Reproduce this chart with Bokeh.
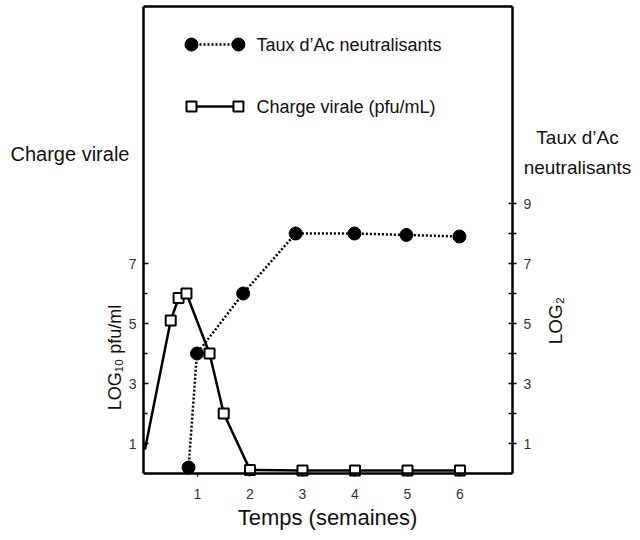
from bokeh.plotting import figure
from bokeh.models import Range1d, LinearAxis, FixedTicker, Label
from bokeh.embed import file_html
from bokeh.resources import INLINE
import math

# ---- data ----
weeks_ac = [0.83, 0.99, 1.87, 2.87, 3.99, 4.98, 5.99]
ac_log2 = [0.2, 4.0, 6.0, 8.0, 8.0, 7.95, 7.9]

weeks_cv = [0.0, 0.49, 0.64, 0.79, 1.23, 1.5, 2.0, 3.0, 4.0, 5.0, 6.0]
cv_log10 = [0.8, 5.1, 5.85, 6.0, 4.0, 2.0, 0.12, 0.1, 0.1, 0.1, 0.1]

x_ticks = [1, 2, 3, 4, 5, 6]
left_ticks = [1, 3, 5, 7]
left_minor = [2, 4, 6]
right_ticks = [1, 3, 5, 7, 9]
right_minor = [2, 4, 6, 8]

series_ac = "Taux d\u2019Ac neutralisants"
series_cv = "Charge virale (pfu/mL)"

FONT = "Liberation Sans"

W, H = 632, 532
# axis box in data units
X0, X1 = -0.0286, 7.0
Y0, Y1 = 0.0, 15.567

p = figure(width=W, height=H, output_backend="svg", toolbar_location=None,
           x_range=Range1d(-2.752, 9.286), y_range=Range1d(-1.9667, 15.767),
           min_border=0, min_border_left=0, min_border_right=0, min_border_top=0,
           min_border_bottom=0, background_fill_color="white",
           border_fill_color="white", x_axis_location=None, y_axis_location=None)
p.outline_line_color = None
p.xgrid.visible = False
p.ygrid.visible = False
p.extra_y_ranges = {"ac": Range1d(-1.9667, 15.767)}


def style(ax, labels=True):
    ax.axis_line_width = 2.5
    ax.axis_line_color = "black"
    ax.major_tick_line_width = 1.5
    ax.minor_tick_line_width = 1.5
    ax.major_label_text_font = FONT
    ax.major_label_text_font_size = "14px"
    ax.major_label_text_color = "#333333"
    if not labels:
        ax.major_label_text_font_size = "0px"


# bottom axis (weeks)
xa = LinearAxis(ticker=FixedTicker(ticks=x_ticks), fixed_location=Y0, bounds=(X0, X1))
style(xa)
xa.major_tick_in = 0
xa.major_tick_out = 3
xa.minor_tick_line_color = None
xa.major_label_standoff = 12
p.add_layout(xa, "below")

# top border line
ta = LinearAxis(ticker=FixedTicker(ticks=[]), fixed_location=Y1, bounds=(X0, X1))
style(ta, labels=False)
ta.major_tick_line_color = None
ta.minor_tick_line_color = None
p.add_layout(ta, "above")

# left axis (LOG10 pfu/ml)
la = LinearAxis(ticker=FixedTicker(ticks=left_ticks, minor_ticks=left_minor),
                fixed_location=X0, bounds=(Y0, Y1))
style(la)
la.major_tick_in = 5
la.major_tick_out = 0
la.minor_tick_in = 4
la.minor_tick_out = 0
la.major_label_standoff = 7
p.add_layout(la, "left")

# right axis (LOG2)
ra = LinearAxis(y_range_name="ac",
                ticker=FixedTicker(ticks=right_ticks, minor_ticks=right_minor),
                fixed_location=X1, bounds=(Y0, Y1))
style(ra)
ra.major_tick_in = 4
ra.major_tick_out = 4
ra.minor_tick_in = 4
ra.minor_tick_out = 4
ra.major_label_standoff = 7
p.add_layout(ra, "right")

# series: antibody (dotted, filled circles)
p.line(weeks_ac, ac_log2, line_color="black", line_width=2.5, line_dash="2 2",
       y_range_name="ac")
p.scatter(weeks_ac, ac_log2, marker="circle", size=13, fill_color="black",
          line_color="black", y_range_name="ac")

# series: viral load (solid, open squares)
p.line(weeks_cv, cv_log10, line_color="black", line_width=2.5)
p.scatter(weeks_cv[1:], cv_log10[1:], marker="square", size=10, fill_color="white",
          line_color="black", line_width=2)

# ---- manual legend ----
lx = [0.886, 1.78]
ly1 = 14.3
ly2 = 12.23
p.line(lx, [ly1, ly1], line_color="black", line_width=2.5, line_dash="2 2")
p.scatter(lx, [ly1, ly1], marker="circle", size=13, fill_color="black", line_color="black")
p.line(lx, [ly2, ly2], line_color="black", line_width=2.5)
p.scatter(lx, [ly2, ly2], marker="square", size=10, fill_color="white",
          line_color="black", line_width=2)


def lab(text, x, y, size, align="left", angle=0.0):
    p.add_layout(Label(text=text, x=x, y=y, x_units="canvas", y_units="canvas",
                       text_font=FONT, text_font_size=size, text_align=align,
                       text_baseline="middle", angle=angle, text_color="#111111"))


lab(series_ac, 256, 44, "18px")
lab(series_cv, 256, 106, "18px")
lab("Charge virale", 10, 153, "20px")
lab("Taux d\u2019Ac", 577, 137, "19px", align="center")
lab("neutralisants", 577, 167, "19px", align="center")
lab("LOG\u2081\u2080 pfu/ml", 114, 357, "18px", align="center", angle=math.pi / 2)
lab("LOG\u2082", 555, 320, "19px", align="center", angle=math.pi / 2)
lab("Temps (semaines)", 327, 517, "22px", align="center")

open("out.html", "w").write(file_html(p, INLINE))
